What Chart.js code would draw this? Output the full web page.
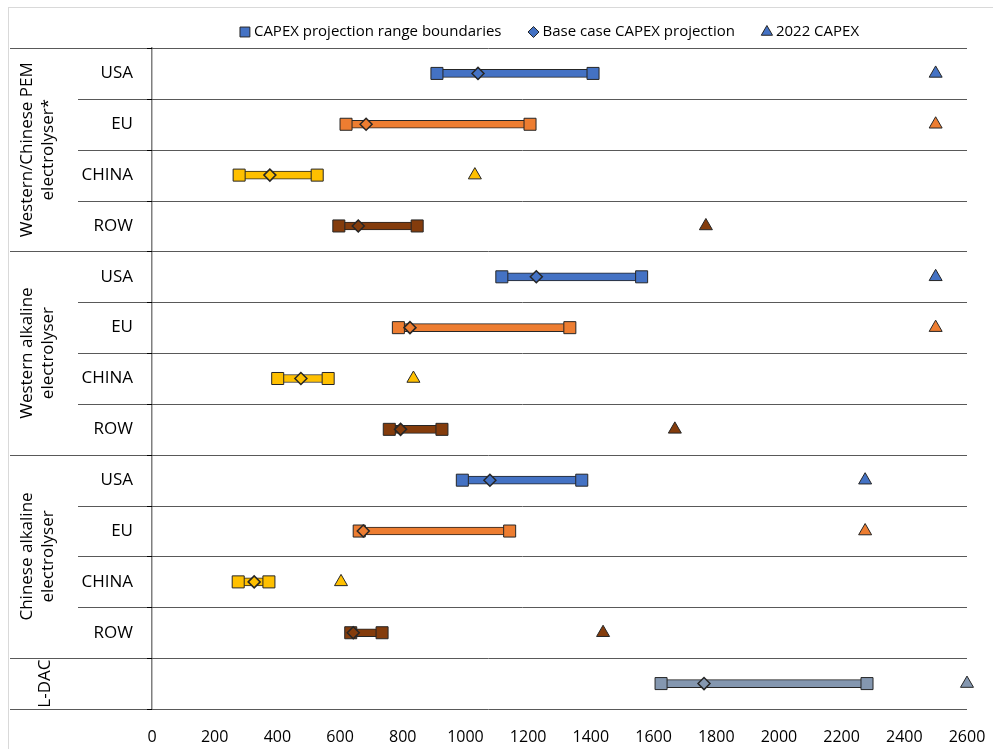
<!DOCTYPE html>
<html>
<head>
<meta charset="utf-8">
<script src="https://cdn.jsdelivr.net/npm/chart.js@4.4.1/dist/chart.umd.min.js"></script>
<style>
  html, body { margin: 0; padding: 0; background: #fff; }
  #wrap { position: relative; width: 993px; height: 749px; }
</style>
</head>
<body>
<div id="wrap"><canvas id="capex"></canvas></div>
<script>
// rows, top to bottom
const groupLabels = [['Western/Chinese PEM', 'electrolyser*'], ['Western alkaline', 'electrolyser'], ['Chinese alkaline', 'electrolyser'], ['L-DAC']];
const groupSizes = [4, 4, 4, 1];
const regions = ['USA', 'EU', 'CHINA', 'ROW', 'USA', 'EU', 'CHINA', 'ROW', 'USA', 'EU', 'CHINA', 'ROW', ''];

const rangeLow  = [909, 619, 278, 596, 1116, 786, 401, 757, 990, 661, 275, 634, 1624];
const rangeHigh = [1407, 1206, 527, 846, 1562, 1333, 562, 925, 1371, 1141, 373, 734, 2281];
const baseCase  = [1040, 683, 376, 658, 1226, 823, 475, 793, 1078, 674, 326, 642, 1761];
const capex2022 = [2500, 2500, 1030, 1767, 2500, 2500, 834, 1668, 2275, 2275, 603, 1439, 2600];

const seriesNames = ['CAPEX projection range boundaries', 'Base case CAPEX projection', '2022 CAPEX'];

const regionColors = { USA: '#4472C4', EU: '#ED7D31', CHINA: '#FFC000', ROW: '#843C0C', '': '#8497B0' };
const rowColors = regions.map(r => regionColors[r]);
const edge = '#262626';
const font = '"Open Sans", sans-serif';

const markerDefaults = {
    type: 'line',
    indexAxis: 'y',
    showLine: false,
    clip: false,
    pointBackgroundColor: rowColors,
    pointBorderColor: edge,
    pointBorderWidth: 1,
    pointHoverRadius: 0
};

// separators, axis ticks, group labels
const layoutPlugin = {
    id: 'layoutPlugin',
    beforeDraw(chart) {
        const ctx = chart.ctx;
        ctx.save();
        ctx.strokeStyle = '#d9d9d9';
        ctx.lineWidth = 1;
        ctx.strokeRect(8.5, 7.5, chart.width, chart.height);
        ctx.restore();
    },
    beforeDatasetsDraw(chart) {
        const ctx = chart.ctx;
        const y = chart.scales.y;
        const area = chart.chartArea;
        const n = regions.length;
        const bounds = [];
        for (let i = 0; i <= n; i++) {
            if (i === 0) bounds.push(area.top);
            else if (i === n) bounds.push(area.bottom);
            else bounds.push((y.getPixelForValue(i - 1) + y.getPixelForValue(i)) / 2);
        }
        const groupEdges = [0];
        groupSizes.forEach(s => groupEdges.push(groupEdges[groupEdges.length - 1] + s));

        ctx.save();
        ctx.lineWidth = 1;
        bounds.forEach((b, i) => {
            const py = Math.round(b) + 0.5;
            const isGroup = groupEdges.includes(i);
            ctx.strokeStyle = '#595959';
            ctx.beginPath();
            ctx.moveTo(isGroup ? 10 : 78, py);
            ctx.lineTo(area.right, py);
            ctx.stroke();
            ctx.strokeStyle = '#000';
            ctx.beginPath();
            ctx.moveTo(area.left - 5, py);
            ctx.lineTo(area.left, py);
            ctx.stroke();
        });

        ctx.fillStyle = '#000';
        ctx.font = '17px ' + font;
        ctx.textAlign = 'center';
        ctx.textBaseline = 'middle';
        groupLabels.forEach((lines, g) => {
            const cy = (bounds[groupEdges[g]] + bounds[groupEdges[g + 1]]) / 2;
            const cx = lines.length > 1 ? 38 : 45;
            ctx.save();
            ctx.translate(cx, cy);
            ctx.rotate(-Math.PI / 2);
            lines.forEach((t, k) => {
                ctx.fillText(t, 0, (k - (lines.length - 1) / 2) * 21);
            });
            ctx.restore();
        });
        ctx.restore();
    },
    afterDraw(chart) {
        // legend
        const ctx = chart.ctx;
        const styles = [
            { pointStyle: 'rect', radius: 7 },
            { pointStyle: 'rectRot', radius: 5.5 },
            { pointStyle: 'triangle', radius: 6.5 }
        ];
        ctx.save();
        ctx.font = '15px ' + font;
        ctx.textBaseline = 'middle';
        ctx.textAlign = 'left';
        const gapMarker = 9, gapItem = 32;
        let total = 0;
        seriesNames.forEach((t, i) => {
            total += gapMarker + ctx.measureText(t).width + (i < seriesNames.length - 1 ? gapItem : 0);
        });
        let x = 552 - total / 2;
        const ly = 32;
        seriesNames.forEach((t, i) => {
            ctx.fillStyle = '#4472C4';
            ctx.strokeStyle = edge;
            ctx.lineWidth = 1;
            Chart.helpers.drawPoint(ctx, { pointStyle: styles[i].pointStyle, radius: styles[i].radius, rotation: 0, borderWidth: 1 }, x, ly);
            ctx.fillStyle = '#000';
            ctx.fillText(t, x + gapMarker, ly);
            x += gapMarker + ctx.measureText(t).width + gapItem;
        });
        ctx.restore();
    }
};

new Chart(document.getElementById('capex'), {
    type: 'bar',
    data: {
        labels: regions,
        datasets: [
            {
                label: seriesNames[2],
                ...markerDefaults,
                data: capex2022,
                pointStyle: 'triangle',
                pointRadius: 7.5,
                order: 0
            },
            {
                label: seriesNames[1],
                ...markerDefaults,
                data: baseCase,
                pointStyle: 'rectRot',
                pointRadius: 6,
                pointBorderWidth: 1.5,
                order: 1
            },
            {
                label: seriesNames[0],
                ...markerDefaults,
                data: rangeLow,
                pointStyle: 'rect',
                pointRadius: 8.5,
                order: 2
            },
            {
                label: seriesNames[0],
                ...markerDefaults,
                data: rangeHigh,
                pointStyle: 'rect',
                pointRadius: 8.5,
                order: 2
            },
            {
                label: 'range',
                type: 'bar',
                indexAxis: 'y',
                data: rangeLow.map((v, i) => [v, rangeHigh[i]]),
                backgroundColor: rowColors,
                borderColor: edge,
                borderWidth: 1,
                borderSkipped: false,
                barThickness: 8,
                order: 3
            }
        ]
    },
    options: {
        indexAxis: 'y',
        responsive: true,
        maintainAspectRatio: false,
        animation: false,
        layout: { padding: { top: 48, right: 26, bottom: 0, left: 0 } },
        plugins: {
            legend: { display: false },
            tooltip: { enabled: false }
        },
        scales: {
            x: {
                type: 'linear',
                min: 0,
                max: 2600,
                grid: { display: true, drawOnChartArea: false, drawTicks: true, tickLength: 19, color: 'rgba(0,0,0,0)' },
                border: { display: false },
                ticks: {
                    stepSize: 200,
                    padding: 0,
                    color: '#000',
                    font: { family: font, size: 16 },
                    maxRotation: 0,
                    callback: v => String(v)
                },
                afterFit(scale) { scale.height = 40; }
            },
            y: {
                type: 'category',
                offset: true,
                grid: { display: false, drawTicks: false },
                border: { display: true, color: '#7f7f7f', width: 1.5 },
                ticks: {
                    autoSkip: false,
                    padding: 19,
                    color: '#000',
                    font: { family: font, size: 17 }
                },
                afterFit(scale) { scale.width = 152; }
            }
        }
    },
    plugins: [layoutPlugin]
});
</script>
</body>
</html>
